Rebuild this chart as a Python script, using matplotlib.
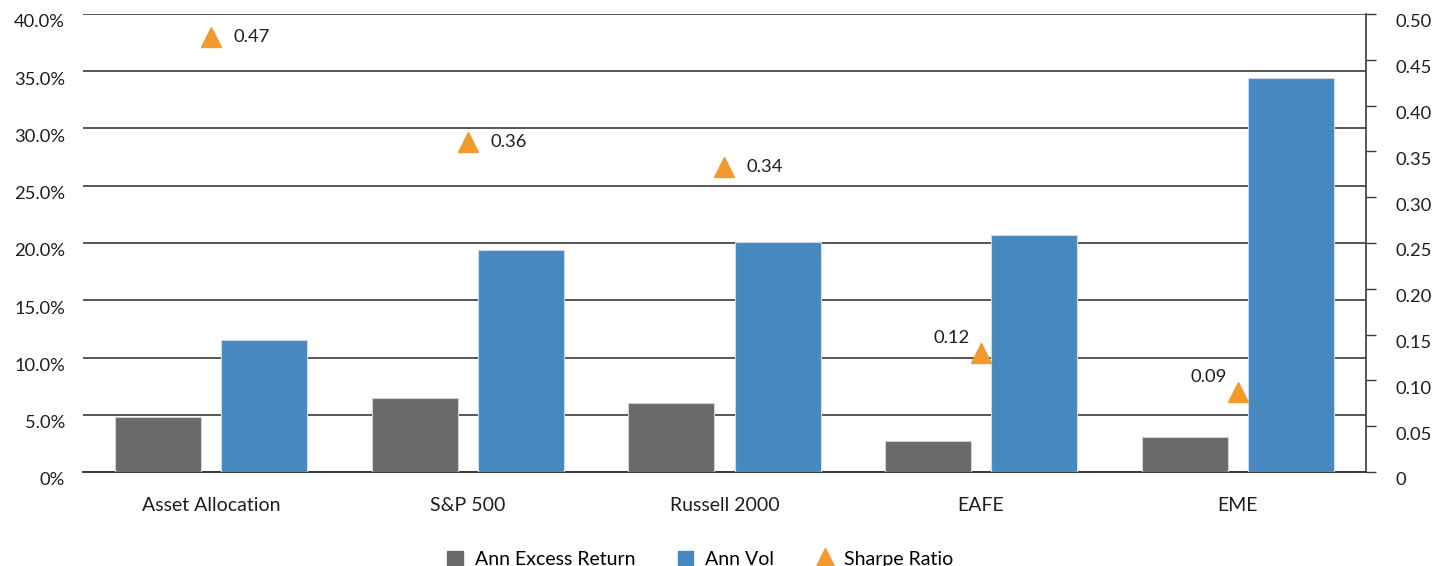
import numpy as np
import matplotlib
matplotlib.use("Agg")
import matplotlib.pyplot as plt
import matplotlib.transforms as mtransforms
from matplotlib.ticker import FuncFormatter
from matplotlib.lines import Line2D
from matplotlib.patches import Patch

plt.rcParams['font.family'] = ['Lato', 'DejaVu Sans']

# data
categories = ["Asset Allocation", "S&P 500", "Russell 2000", "EAFE", "EME"]
excess_return = [4.8, 6.5, 6.0, 2.7, 3.1]      # %
ann_vol = [11.5, 19.4, 20.1, 20.7, 34.4]       # %
sharpe = [0.475, 0.36, 0.333, 0.13, 0.087]
sharpe_labels = ["0.47", "0.36", "0.34", "0.12", "0.09"]

grey = "#6a6a6c"
blue = "#4888c0"
orange = "#f39a2e"
grid_col = "#3a3a3a"
txt = "#1e1e1e"

fig = plt.figure(figsize=(14.5, 5.66), dpi=100)
ax = fig.add_axes([83/1450, 1-472/566, (1366-83)/1450, (472-14)/566])
ax2 = ax.twinx()

x = np.arange(len(categories))
w = 0.335
off = 0.207
ax.bar(x - off, excess_return, w, color=grey, edgecolor="#d0d0d0", linewidth=0.8, zorder=3)
ax.bar(x + off, ann_vol, w, color=blue, edgecolor="#c8d8e8", linewidth=0.8, zorder=3)

ax.set_xlim(-0.5, len(categories) - 0.5)
ax.set_ylim(0, 40)
ax.set_yticks(np.arange(0, 41, 5))
ax.yaxis.set_major_formatter(FuncFormatter(lambda v, p: "0%" if v == 0 else f"{v:.1f}%"))
ax.grid(axis="y", color=grid_col, linewidth=1.2, zorder=0)
ax.set_axisbelow(True)
ax.tick_params(axis="y", length=0, pad=13, labelsize=13.2, colors=txt)
ax.set_xticks(x)
ax.set_xticklabels(categories)
ax.tick_params(axis="x", length=0, pad=18, labelsize=14, colors=txt)
for s in ["left", "top", "right"]:
    ax.spines[s].set_visible(False)
ax.spines["bottom"].set_color(grid_col)
ax.spines["bottom"].set_linewidth(1.4)

ax2.set_ylim(0, 0.5)
ax2.set_yticks(np.arange(0, 0.51, 0.05))
ax2.yaxis.set_major_formatter(FuncFormatter(lambda v, p: "0" if abs(v) < 1e-9 else f"{v:.2f}"))
ax2.tick_params(axis="y", direction="out", length=7, width=1, color=grid_col,
                pad=14, labelsize=13.2, labelcolor=txt)
for s in ["left", "top", "bottom"]:
    ax2.spines[s].set_visible(False)
ax2.spines["right"].set_color(grid_col)
ax2.spines["right"].set_linewidth(1.2)

# tick labels sit a little below their gridlines in the original
shift = mtransforms.ScaledTranslation(0, -5/72, fig.dpi_scale_trans)
for lab in ax.get_yticklabels() + ax2.get_yticklabels():
    lab.set_transform(lab.get_transform() + shift)

ax2.plot(x, sharpe, linestyle="none", marker="^", markersize=15, color=orange, zorder=5)
for i, (v, lab) in enumerate(zip(sharpe, sharpe_labels)):
    if i < 3:
        ax2.annotate(lab, (x[i], v), xytext=(16, 0), textcoords="offset points",
                     ha="left", va="center", fontsize=13.2, color=txt)
    else:
        ax2.annotate(lab, (x[i], v), xytext=(-8, 11), textcoords="offset points",
                     ha="right", va="center", fontsize=13.2, color=txt)

handles = [Patch(color=grey, label="Ann Excess Return"),
           Patch(color=blue, label="Ann Vol"),
           Line2D([], [], linestyle="none", marker="^", markersize=15, color=orange, label="Sharpe Ratio")]
fig.legend(handles=handles, loc="lower center", bbox_to_anchor=(0.483, -0.035), ncol=3,
           frameon=False, fontsize=14, handlelength=0.8, handleheight=0.8,
           columnspacing=2.2, handletextpad=0.6)

fig.savefig("out.png", dpi=100)
